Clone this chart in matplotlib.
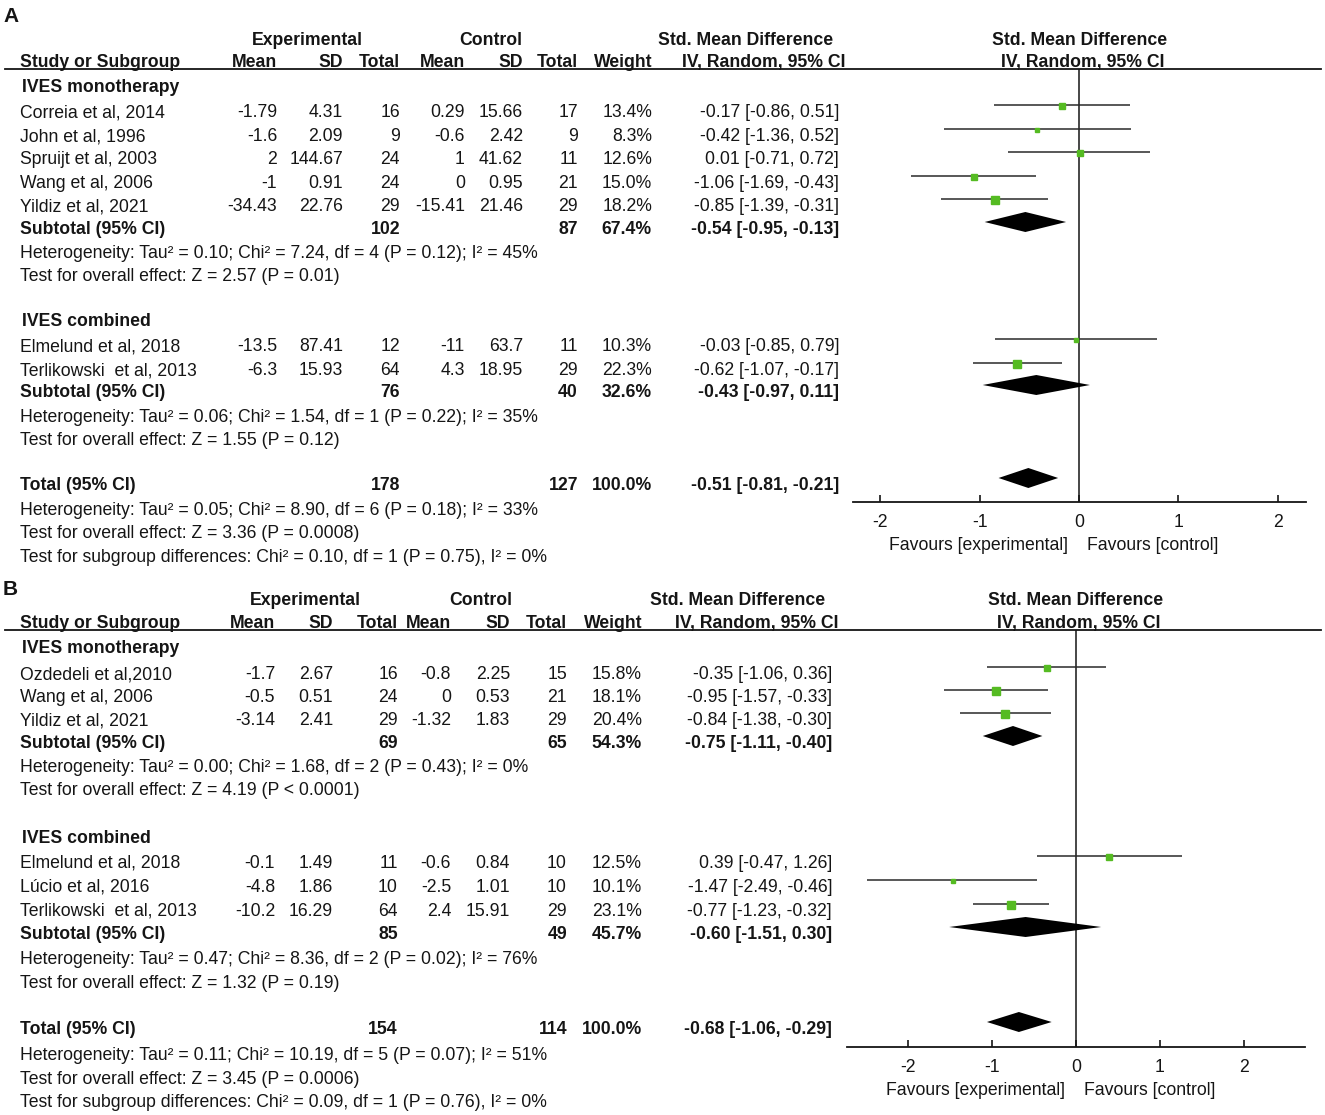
import matplotlib
matplotlib.use("Agg")
import matplotlib.pyplot as plt
from matplotlib.lines import Line2D

W, H = 1325, 1115
FS = 12.7
INK = '#151515'
GREEN = '#55bb22'

##################
# Panel A values #
##################
a_groups = ["IVES monotherapy", "IVES combined"]
a_study = ["Correia et al, 2014", "John et al, 1996", "Spruijt et al, 2003",
           "Wang et al, 2006", "Yildiz et al, 2021",
           "Elmelund et al, 2018", "Terlikowski  et al, 2013"]
a_group = [0, 0, 0, 0, 0, 1, 1]
a_exp_mean = [-1.79, -1.6, 2, -1, -34.43, -13.5, -6.3]
a_exp_sd = [4.31, 2.09, 144.67, 0.91, 22.76, 87.41, 15.93]
a_exp_n = [16, 9, 24, 24, 29, 12, 64]
a_ctl_mean = [0.29, -0.6, 1, 0, -15.41, -11, 4.3]
a_ctl_sd = [15.66, 2.42, 41.62, 0.95, 21.46, 63.7, 18.95]
a_ctl_n = [17, 9, 11, 21, 29, 11, 29]
a_weight = [13.4, 8.3, 12.6, 15.0, 18.2, 10.3, 22.3]
a_smd = [-0.17, -0.42, 0.01, -1.06, -0.85, -0.03, -0.62]
a_lo = [-0.86, -1.36, -0.71, -1.69, -1.39, -0.85, -1.07]
a_hi = [0.51, 0.52, 0.72, -0.43, -0.31, 0.79, -0.17]
a_sub_exp_n = [102, 76]
a_sub_ctl_n = [87, 40]
a_sub_weight = [67.4, 32.6]
a_sub_smd = [-0.54, -0.43]
a_sub_lo = [-0.95, -0.97]
a_sub_hi = [-0.13, 0.11]
a_sub_het = ["Heterogeneity: Tau² = 0.10; Chi² = 7.24, df = 4 (P = 0.12); I² = 45%",
             "Heterogeneity: Tau² = 0.06; Chi² = 1.54, df = 1 (P = 0.22); I² = 35%"]
a_sub_test = ["Test for overall effect: Z = 2.57 (P = 0.01)",
              "Test for overall effect: Z = 1.55 (P = 0.12)"]
a_total = [178, 127, 100.0, -0.51, -0.81, -0.21]
a_total_notes = ["Heterogeneity: Tau² = 0.05; Chi² = 8.90, df = 6 (P = 0.18); I² = 33%",
                 "Test for overall effect: Z = 3.36 (P = 0.0008)",
                 "Test for subgroup differences: Chi² = 0.10, df = 1 (P = 0.75), I² = 0%"]

##################
# Panel B values #
##################
b_groups = ["IVES monotherapy", "IVES combined"]
b_study = ["Ozdedeli et al,2010", "Wang et al, 2006", "Yildiz et al, 2021",
           "Elmelund et al, 2018", "Lúcio et al, 2016", "Terlikowski  et al, 2013"]
b_group = [0, 0, 0, 1, 1, 1]
b_exp_mean = [-1.7, -0.5, -3.14, -0.1, -4.8, -10.2]
b_exp_sd = [2.67, 0.51, 2.41, 1.49, 1.86, 16.29]
b_exp_n = [16, 24, 29, 11, 10, 64]
b_ctl_mean = [-0.8, 0, -1.32, -0.6, -2.5, 2.4]
b_ctl_sd = [2.25, 0.53, 1.83, 0.84, 1.01, 15.91]
b_ctl_n = [15, 21, 29, 10, 10, 29]
b_weight = [15.8, 18.1, 20.4, 12.5, 10.1, 23.1]
b_smd = [-0.35, -0.95, -0.84, 0.39, -1.47, -0.77]
b_lo = [-1.06, -1.57, -1.38, -0.47, -2.49, -1.23]
b_hi = [0.36, -0.33, -0.30, 1.26, -0.46, -0.32]
b_sub_exp_n = [69, 85]
b_sub_ctl_n = [65, 49]
b_sub_weight = [54.3, 45.7]
b_sub_smd = [-0.75, -0.60]
b_sub_lo = [-1.11, -1.51]
b_sub_hi = [-0.40, 0.30]
b_sub_het = ["Heterogeneity: Tau² = 0.00; Chi² = 1.68, df = 2 (P = 0.43); I² = 0%",
             "Heterogeneity: Tau² = 0.47; Chi² = 8.36, df = 2 (P = 0.02); I² = 76%"]
b_sub_test = ["Test for overall effect: Z = 4.19 (P < 0.0001)",
              "Test for overall effect: Z = 1.32 (P = 0.19)"]
b_total = [154, 114, 100.0, -0.68, -1.06, -0.29]
b_total_notes = ["Heterogeneity: Tau² = 0.11; Chi² = 10.19, df = 5 (P = 0.07); I² = 51%",
                 "Test for overall effect: Z = 3.45 (P = 0.0006)",
                 "Test for subgroup differences: Chi² = 0.09, df = 1 (P = 0.76), I² = 0%"]

xticks = [-2, -1, 0, 1, 2]

plt.rcParams['font.family'] = ['Liberation Sans', 'DejaVu Sans']
fig = plt.figure(figsize=(W / 100, H / 100), dpi=100)


def txt(x, y, s, ha='left', bold=False, size=FS):
    # x, y in pixels from the top-left corner, y is the baseline
    fig.text(x / W, 1 - y / H, s, ha=ha, va='baseline', fontsize=size,
             fontweight='bold' if bold else 'normal', color=INK)


def ci_text(s, lo, hi):
    return f"{s:.2f} [{lo:.2f}, {hi:.2f}]"


def diamond(ax, s, lo, hi, y, h=10):
    ax.fill([lo, s, hi, s], [y, y - h, y, y + h], color='black', lw=0)


def draw_panel(label, d, lay):
    cols = lay['cols']
    txt(3, lay['label_y'], label, bold=True, size=15)

    # header
    y1, y2 = lay['hdr']
    txt(lay['exp_c'], y1, "Experimental", ha='center', bold=True)
    txt(lay['ctl_c'], y1, "Control", ha='center', bold=True)
    txt(lay['smd_c'], y1, "Std. Mean Difference", ha='center', bold=True)
    txt(lay['plot_c'], y1, "Std. Mean Difference", ha='center', bold=True)
    txt(20, y2, "Study or Subgroup", bold=True)
    for key, name in [('em', "Mean"), ('es', "SD"), ('en', "Total"),
                      ('cm', "Mean"), ('cs', "SD"), ('cn', "Total"),
                      ('w', "Weight")]:
        txt(cols[key], y2, name, ha='right', bold=True)
    txt(lay['iv_c'], y2, "IV, Random, 95% CI", ha='center', bold=True)
    txt(lay['plot_c'] + 3, y2, "IV, Random, 95% CI", ha='center', bold=True)
    fig.add_artist(Line2D([5 / W, 1321 / W], [1 - lay['line'] / H] * 2,
                          transform=fig.transFigure, color=INK, lw=1.3))

    # forest axes, y in pixel units from the top
    left, right = lay['ax_x']
    top, bottom = lay['line'], lay['axis_y']
    z, u = lay['zero'], lay['unit']
    ax = fig.add_axes([left / W, 1 - bottom / H, (right - left) / W, (bottom - top) / H])
    ax.set_xlim((left - z) / u, (right - z) / u)
    ax.set_ylim(bottom, top)
    ax.axvline(0, color=INK, lw=1.1, zorder=1)
    for sp in ['top', 'left', 'right']:
        ax.spines[sp].set_visible(False)
    ax.spines['bottom'].set_linewidth(1.3)
    ax.spines['bottom'].set_color(INK)
    ax.set_yticks([])
    ax.set_xticks(xticks)
    ax.set_xticklabels([str(t) for t in xticks])
    ax.tick_params(axis='x', direction='in', length=5, width=1.2, pad=9,
                   labelsize=FS, colors=INK)
    ax.patch.set_alpha(0)

    rows = iter(lay['rows'])
    for g, gname in enumerate(d['groups']):
        txt(22, next(rows), gname, bold=True)
        for i in range(len(d['study'])):
            if d['group'][i] != g:
                continue
            y = next(rows)
            txt(20, y, d['study'][i])
            txt(cols['em'], y, f"{d['exp_mean'][i]:g}", ha='right')
            txt(cols['es'], y, f"{d['exp_sd'][i]:g}", ha='right')
            txt(cols['en'], y, str(d['exp_n'][i]), ha='right')
            txt(cols['cm'], y, f"{d['ctl_mean'][i]:g}", ha='right')
            txt(cols['cs'], y, f"{d['ctl_sd'][i]:g}", ha='right')
            txt(cols['cn'], y, str(d['ctl_n'][i]), ha='right')
            txt(cols['w'], y, f"{d['weight'][i]:.1f}%", ha='right')
            txt(cols['ci'], y, ci_text(d['smd'][i], d['lo'][i], d['hi'][i]), ha='right')
            yf = y - 12
            ax.hlines(yf, d['lo'][i], d['hi'][i], color='#2a2a2a', lw=1.1, zorder=2)
            side = 1.5 + 0.32 * d['weight'][i]
            ax.plot(d['smd'][i], yf + 1, 's', ms=side * 0.72, color=GREEN,
                    mec=GREEN, zorder=3)
        y = next(rows)
        txt(20, y, "Subtotal (95% CI)", bold=True)
        txt(cols['en'], y, str(d['sub_exp_n'][g]), ha='right', bold=True)
        txt(cols['cn'], y, str(d['sub_ctl_n'][g]), ha='right', bold=True)
        txt(cols['w'], y, f"{d['sub_weight'][g]:.1f}%", ha='right', bold=True)
        txt(cols['ci'], y, ci_text(d['sub_smd'][g], d['sub_lo'][g], d['sub_hi'][g]),
            ha='right', bold=True)
        diamond(ax, d['sub_smd'][g], d['sub_lo'][g], d['sub_hi'][g], y - 12)
        txt(20, next(rows), d['sub_het'][g])
        txt(20, next(rows), d['sub_test'][g])

    n_e, n_c, w, s, lo, hi = d['total']
    y = next(rows)
    txt(20, y, "Total (95% CI)", bold=True)
    txt(cols['en'], y, str(n_e), ha='right', bold=True)
    txt(cols['cn'], y, str(n_c), ha='right', bold=True)
    txt(cols['w'], y, f"{w:.1f}%", ha='right', bold=True)
    txt(cols['ci'], y, ci_text(s, lo, hi), ha='right', bold=True)
    diamond(ax, s, lo, hi, y - 12)
    for note in d['total_notes']:
        txt(20, next(rows), note)

    fy = lay['axis_y'] + 48
    txt(z - 11, fy, "Favours [experimental]", ha='right')
    txt(z + 8, fy, "Favours [control]", ha='left')


panel_a = dict(groups=a_groups, study=a_study, group=a_group,
               exp_mean=a_exp_mean, exp_sd=a_exp_sd, exp_n=a_exp_n,
               ctl_mean=a_ctl_mean, ctl_sd=a_ctl_sd, ctl_n=a_ctl_n,
               weight=a_weight, smd=a_smd, lo=a_lo, hi=a_hi,
               sub_exp_n=a_sub_exp_n, sub_ctl_n=a_sub_ctl_n, sub_weight=a_sub_weight,
               sub_smd=a_sub_smd, sub_lo=a_sub_lo, sub_hi=a_sub_hi,
               sub_het=a_sub_het, sub_test=a_sub_test,
               total=a_total, total_notes=a_total_notes)
panel_b = dict(groups=b_groups, study=b_study, group=b_group,
               exp_mean=b_exp_mean, exp_sd=b_exp_sd, exp_n=b_exp_n,
               ctl_mean=b_ctl_mean, ctl_sd=b_ctl_sd, ctl_n=b_ctl_n,
               weight=b_weight, smd=b_smd, lo=b_lo, hi=b_hi,
               sub_exp_n=b_sub_exp_n, sub_ctl_n=b_sub_ctl_n, sub_weight=b_sub_weight,
               sub_smd=b_sub_smd, sub_lo=b_sub_lo, sub_hi=b_sub_hi,
               sub_het=b_sub_het, sub_test=b_sub_test,
               total=b_total, total_notes=b_total_notes)

layout_a = dict(label_y=22, hdr=(45, 67), line=69, axis_y=502,
                ax_x=(853, 1306), zero=1079, unit=99.3,
                exp_c=307, ctl_c=491, smd_c=746, iv_c=764, plot_c=1080,
                cols=dict(em=277, es=343, en=400, cm=465, cs=523, cn=578, w=652, ci=839),
                rows=[92, 117, 141, 164, 188, 211, 234, 258, 281,
                      326, 351, 375, 397, 422, 445,
                      490, 515, 538, 562])
layout_b = dict(label_y=595, hdr=(605, 628), line=630, axis_y=1047,
                ax_x=(847, 1305), zero=1076, unit=84,
                exp_c=305, ctl_c=481, smd_c=738, iv_c=757, plot_c=1076,
                cols=dict(em=275, es=333, en=398, cm=451, cs=510, cn=567, w=642, ci=832),
                rows=[653, 679, 702, 725, 748, 772, 795,
                      843, 868, 892, 916, 939, 964, 988,
                      1034, 1060, 1084, 1107])

draw_panel("A", panel_a, layout_a)
draw_panel("B", panel_b, layout_b)

fig.savefig("out.png", dpi=100)
